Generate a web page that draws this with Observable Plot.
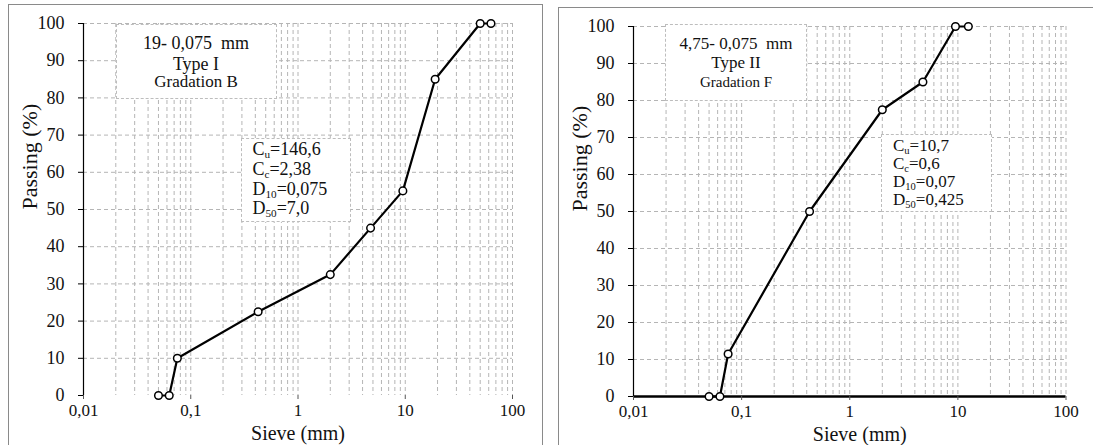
<!DOCTYPE html>
<html>
<head>
<meta charset="utf-8">
<script src="https://cdn.jsdelivr.net/npm/d3@7"></script>
<script src="https://cdn.jsdelivr.net/npm/@observablehq/plot@0.6"></script>
<style>
  html, body { margin: 0; padding: 0; background: #fff; }
  body { width: 1093px; height: 445px; overflow: hidden; position: relative; font-family: "Liberation Serif", "Times New Roman", "DejaVu Serif", serif; color: #111; }
  .panel { position: absolute; top: 0; }
  .frame { position: absolute; border: 1.5px solid #8a8a8a; box-sizing: border-box; pointer-events: none; }
  .box { position: absolute; background: #fff; border: 1px dashed #bdbdbd; box-sizing: border-box; color: #111; }
  .box div { white-space: pre; }
  .center { text-align: center; }
  sub { font-size: 62%; vertical-align: -0.25em; line-height: 0; }
  svg text { font-family: "Liberation Serif", "Times New Roman", "DejaVu Serif", serif; }
</style>
</head>
<body>
<div id="left" class="panel" style="left:0px"></div>
<div id="right" class="panel" style="left:550px"></div>
<div class="frame" style="left:8px; top:4px; width:535px; height:470px;"></div>
<div class="frame" style="left:558px; top:7px; width:560px; height:470px;"></div>
<script>
// ---- Data ----
const sieveB = [0.05, 0.063, 0.075, 0.425, 2, 4.75, 9.5, 19, 50, 63];
const passB  = [0, 0, 10, 22.5, 32.5, 45, 55, 85, 100, 100];
const sieveF = [0.05, 0.063, 0.075, 0.425, 2, 4.75, 9.5, 12.5];
const passF  = [0, 0, 11.5, 50, 77.5, 85, 100, 100];
const xTicks = [0.01, 0.1, 1, 10, 100];
const yTicks = [0, 10, 20, 30, 40, 50, 60, 70, 80, 90, 100];
const minorMult = [1, 2, 3, 4, 5, 6, 7, 8, 9];
const decades = [0.01, 0.1, 1, 10];
const xLabel = "Sieve (mm)";
const yLabel = "Passing (%)";
const boxB1 = ["19- 0,075  mm", "Type I", "Gradation B"];
const boxF1 = ["4,75- 0,075  mm", "Type II", "Gradation F"];
const boxB2 = [["C", "u", "=146,6"], ["C", "c", "=2,38"], ["D", "10", "=0,075"], ["D", "50", "=7,0"]];
const boxF2 = [["C", "u", "=10,7"], ["C", "c", "=0,6"], ["D", "10", "=0,07"], ["D", "50", "=0,425"]];

const FONT = "'Liberation Serif', 'Times New Roman', 'DejaVu Serif', serif";
const gridX = decades.flatMap(d => minorMult.map(m => +(m * d).toPrecision(3))).filter(v => v > 0.01).concat([100]);
const gridY = yTicks.filter(v => v > 0);
const fmt = d => String(d).replace(".", ",");

function chart({sieve, pass, width, mL, mR, mT, mB, xAxisLine, xLabelDx}) {
  const data = sieve.map((s, i) => ({s, p: pass[i]}));
  const marks = [
    Plot.gridX(gridX, {stroke: "#b5b5b5", strokeOpacity: 1, strokeDasharray: "4,3", strokeWidth: 1}),
    Plot.gridY(gridY, {stroke: "#b5b5b5", strokeOpacity: 1, strokeDasharray: "4,3", strokeWidth: 1}),
    Plot.ruleX([0.01], {stroke: "#000", strokeWidth: 1.2}),
  ];
  if (xAxisLine) marks.push(Plot.ruleY([0], {stroke: "#000", strokeWidth: 2.5}));
  marks.push(
    Plot.axisX({ticks: xTicks, tickFormat: fmt, tickSize: 4, tickPadding: 4, fontSize: 17, label: null, stroke: "#555", fill: "#111"}),
    Plot.axisY({ticks: yTicks, tickSize: 5, tickPadding: 14, fontSize: 18, label: null, stroke: "#000", fill: "#111"}),
    Plot.line(data, {x: "s", y: "p", stroke: "#000", strokeWidth: 2.2}),
    Plot.dot(data, {x: "s", y: "p", r: 3.8, fill: "#fff", stroke: "#000", strokeWidth: 1.5}),
    Plot.text([xLabel], {frameAnchor: "bottom", text: d => d, fontSize: 20, dy: 44, dx: xLabelDx, fill: "#111"}),
    Plot.text([yLabel], {frameAnchor: "left", text: d => d, fontSize: 22, rotate: -90, dx: -54, fill: "#111"})
  );
  return Plot.plot({
    width, height: 445,
    marginLeft: mL, marginRight: mR, marginTop: mT, marginBottom: mB,
    x: {type: "log", domain: [0.01, 100]},
    y: {domain: [0, 100]},
    style: {fontFamily: FONT, fontSize: "18px", color: "#111", background: "transparent", overflow: "visible"},
    marks
  });
}

document.getElementById("left").append(chart({sieve: sieveB, pass: passB, width: 545, mL: 83, mR: 33, mT: 23, mB: 50, xAxisLine: false, xLabelDx: 0}));
document.getElementById("right").append(chart({sieve: sieveF, pass: passF, width: 543, mL: 83, mR: 27.5, mT: 26, mB: 49, xAxisLine: true, xLabelDx: 10}));

function titleBox(lines, left, top, w, h, sizes, tops) {
  const b = document.createElement("div");
  b.className = "box center";
  Object.assign(b.style, {left: left + "px", top: top + "px", width: w + "px", height: h + "px"});
  lines.forEach((t, i) => {
    const d = document.createElement("div");
    d.textContent = t;
    Object.assign(d.style, {position: "absolute", left: 0, right: 0, top: tops[i] + "px", fontSize: sizes[i] + "px", lineHeight: "20px"});
    b.append(d);
  });
  document.body.append(b);
}
function paramBox(lines, left, top, w, h, size, pad, lh, firstTop) {
  const b = document.createElement("div");
  b.className = "box";
  Object.assign(b.style, {left: left + "px", top: top + "px", width: w + "px", height: h + "px"});
  lines.forEach(([a, s, rest], i) => {
    const d = document.createElement("div");
    d.innerHTML = `${a}<sub>${s}</sub>${rest}`;
    Object.assign(d.style, {position: "absolute", left: pad + "px", top: (firstTop + i * lh) + "px", fontSize: size + "px", lineHeight: lh + "px"});
    b.append(d);
  });
  document.body.append(b);
}
titleBox(boxB1, 115.5, 24, 161, 75, [18, 18, 17], [8, 29, 47]);
paramBox(boxB2, 240.5, 138, 110, 84, 18, 11, 19.8, 1);
titleBox(boxF1, 665, 24, 142, 77, [17, 17, 15], [9, 28, 47]);
paramBox(boxF2, 881, 133.5, 111, 78.5, 17, 11, 18, 2);
</script>
</body>
</html>
